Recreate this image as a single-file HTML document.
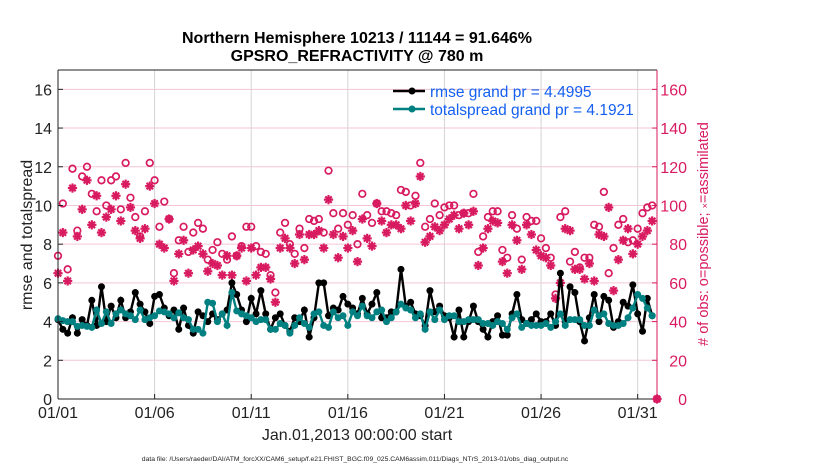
<!DOCTYPE html>
<html><head><meta charset="utf-8">
<style>
body{margin:0;background:#fff;}
svg text{font-family:"Liberation Sans",Arial,sans-serif;}
</style></head>
<body>
<svg id="chart" width="830" height="470" viewBox="0 0 830 470" xmlns="http://www.w3.org/2000/svg">
<rect x="0" y="0" width="830" height="470" fill="#fff"/>
<g id="grid"></g>
<g id="marks"></g>
<g id="axes"></g>
</svg>
<script>
const xTickLabels=["01/01","01/06","01/11","01/16","01/21","01/26","01/31"];
const xTickDays=[0,5,10,15,20,25,30];
const yTicks=[0,2,4,6,8,10,12,14,16];
const y2Ticks=[0,20,40,60,80,100,120,140,160];
const rmse=[4.1,3.6,3.4,4.2, 3.4,4.1,3.8,5.1, 3.8,5.8,4.0,4.8, 4.2,5.1,4.2,4.5, 5.5,4.9,4.5,3.9,
 5.3,5.4,4.7,4.3, 4.6,3.6,4.7,3.8, 3.4,4.5,4.3,4.0, 4.4,4.1,4.4,4.6, 6.0,5.4,4.6,4.0,
 5.2,4.4,5.6,4.4, 3.6,4.2,4.4,3.8, 3.5,4.2,4.0,4.6, 3.2,4.2,6.0,6.0, 4.3,4.7,4.6,5.3,
 4.9,4.7,4.4,5.2, 4.4,4.9,5.5,4.2, 4.2,4.5,4.5,6.7, 4.8,5.0,4.4,4.3, 3.8,5.6,4.5,4.8,
 4.3,4.2,3.2,4.6, 3.2,4.0,4.8,4.0, 3.6,3.2,4.0,4.3, 3.3,3.3,4.4,5.4, 4.1,3.9,4.1,4.4,
 4.0,4.0,4.4,3.8, 6.5,4.0,5.8,5.5, 4.0,3.0,4.2,5.4, 4.0,5.3,5.1,3.7, 4.0,5.0,4.8,5.9,
 4.4,3.5,5.2,4.3];
const spread=[4.15,4.05,4.0,4.0, 3.75,3.8,3.75,3.7, 4.6,3.9,4.5,3.9, 4.4,4.6,4.4,4.3, 4.1,4.6,4.1,4.2,
 4.3,4.55,4.5,4.4, 4.2,4.45,4.2,4.1, 3.6,3.6,3.4,5.0, 4.95,4.0,4.4,3.8, 5.5,4.55,4.4,4.3,
 4.2,4.0,4.1,4.1, 3.6,3.6,3.9,3.8, 3.4,3.8,4.2,3.9, 3.7,4.4,4.5,3.8, 3.7,4.5,4.2,4.3,
 3.8,4.5,4.3,4.8, 4.3,4.2,4.5,4.6, 4.0,4.2,4.5,4.9, 4.7,4.6,4.2,4.4, 3.6,4.5,4.1,4.6,
 4.1,4.3,4.3,4.0, 4.0,4.1,4.1,4.1, 3.9,3.9,3.8,4.0, 3.9,3.6,4.2,4.4, 3.7,3.9,3.8,3.8,
 3.8,3.9,3.7,4.0, 4.4,3.8,4.1,4.1, 4.1,3.8,3.8,4.6, 4.3,4.4,3.9,3.8, 3.8,3.9,4.2,4.7,
 5.4,5.2,4.7,4.3];
const possible=[74,101,67,119, 87,115,120,106, 97,113,100,113, 115,98,122,104, 94,84,97,122,
 113,89,102,93, 65,82,89,76, 86,91,88,72, 77,81,75,72, 84,74,79,89,
 89,79,76,75, 64,55,86,91, 80,75,88,78, 93,92,93,86, 118,96,88,96,
 90,95,80,106, 95,91,101,97, 97,96,95,108, 107,100,105,122, 89,93,101,95,
 99,100,100,95, 96,96,106,76, 84,94,97,97, 77,73,95,88, 72,94,92,92,
 83,78,73,54, 94,97,71,76, 68,73,73,90, 89,107,65,78, 90,93,81,82,
 88,96,99,100, 0];
const assimilated=[65,86,61,109, 84,98,113,90, 105,86,94,98, 105,92,111,99, 87,83,88,110,
 101,80,78,93, 61,75,82,65, 77,79,75,66, 70,69,64,74, 64,74,78,61,
 78,64,68,68, 62,50,78,83, 78,70,85,72, 85,85,87,78, 103,85,73,84,
 78,87,71,93, 83,79,101,92, 86,90,90,88, 100,92,101,115, 81,84,89,87,
 90,93,95,88, 96,90,97,69, 78,88,92,91, 71,65,90,82, 67,90,85,77,
 74,73,69,52, 60,88,87,67, 67,62,70,61, 85,84,99,56, 72,82,88,75,
 80,84,87,92, 0];
const stepDays=0.25;

const NS="http://www.w3.org/2000/svg";
const L=58,R=657,T=70,B=399;
const xs=d=>L+(R-L)*d/31;
const ys=v=>B-(B-T)*v/17;
const ys2=v=>B-(B-T)*v/170;
const red="#d81b60";
function mk(tag,attrs,parent,text){const e=document.createElementNS(NS,tag);for(const k in attrs)e.setAttribute(k,attrs[k]);if(text!==undefined)e.textContent=text;parent.appendChild(e);return e;}
const grid=document.getElementById('grid'),marks=document.getElementById('marks'),axes=document.getElementById('axes');

yTicks.forEach(v=>{const g=mk('line',{x1:L,x2:R,y1:ys(v),y2:ys(v),stroke:"#f3c6d6","stroke-width":1},grid);

});
xTickDays.forEach(d=>{const g=mk('line',{x1:xs(d),x2:xs(d),y1:T,y2:B,stroke:"#d4d4d4","stroke-width":1},grid);

});

const obsG=mk('g',{},marks);


possible.forEach((v,i)=>{const d=i<124?i*stepDays:31;const c=mk('circle',{cx:xs(d),cy:ys2(v),r:3.3,fill:"none",stroke:red,"stroke-width":1.7},obsG);

});
assimilated.forEach((v,i)=>{const d=i<124?i*stepDays:31;const x=xs(d),y=ys2(v),s=4.6;
const g=mk('g',{stroke:red,"stroke-width":2.2},obsG);


mk('line',{x1:x-s,x2:x+s,y1:y,y2:y},g);mk('line',{x1:x,x2:x,y1:y-s,y2:y+s},g);
mk('line',{x1:x-s*0.7,x2:x+s*0.7,y1:y-s*0.7,y2:y+s*0.7},g);mk('line',{x1:x-s*0.7,x2:x+s*0.7,y1:y+s*0.7,y2:y-s*0.7},g);});

function series(arr,col,name){const g=mk('g',{},marks);


const pts=arr.map((v,i)=>xs(i*stepDays).toFixed(1)+","+ys(v).toFixed(1)).join(" ");
mk('polyline',{points:pts,fill:"none",stroke:col,"stroke-width":2.4},g);
arr.forEach((v,i)=>{const c=mk('circle',{cx:xs(i*stepDays),cy:ys(v),r:3.5,fill:col},g);

});}
series(rmse,"#000","rmse-series");
series(spread,"#008080","totalspread-series");

mk('line',{x1:L,x2:R,y1:B,y2:B,stroke:"#222","stroke-width":1},axes);
mk('line',{x1:L,x2:R,y1:T,y2:T,stroke:"#222","stroke-width":1},axes);
mk('line',{x1:L,x2:L,y1:T,y2:B,stroke:"#222","stroke-width":1},axes);
mk('line',{x1:R,x2:R,y1:T,y2:B,stroke:red,"stroke-width":1},axes);
yTicks.forEach(v=>{mk('line',{x1:L,x2:L+5,y1:ys(v),y2:ys(v),stroke:"#222"},axes);
const t=mk('text',{x:L-6,y:ys(v)+6,"text-anchor":"end","font-size":16,fill:"#222"},axes,String(v));

});
y2Ticks.forEach(v=>{mk('line',{x1:R-5,x2:R,y1:ys2(v),y2:ys2(v),stroke:red},axes);
const t=mk('text',{x:687,y:ys2(v)+6,"text-anchor":"end","font-size":16,fill:red},axes,String(v));

});
xTickDays.forEach((d,i)=>{mk('line',{x1:xs(d),x2:xs(d),y1:B-5,y2:B,stroke:"#222"},axes);
const t=mk('text',{x:xs(d),y:B+19,"text-anchor":"middle","font-size":16,fill:"#222"},axes,xTickLabels[i]);

});
</script>
<svg width="830" height="470" style="position:absolute;left:0;top:0;pointer-events:none" xmlns="http://www.w3.org/2000/svg">
<text x="357" y="43" text-anchor="middle" font-size="16" font-weight="bold" font-family="Liberation Sans, sans-serif">Northern Hemisphere 10213 / 11144 = 91.646%</text>
<text x="357" y="61" text-anchor="middle" font-size="16" font-weight="bold" font-family="Liberation Sans, sans-serif">GPSRO_REFRACTIVITY @ 780 m</text>
<text transform="translate(32,235) rotate(-90)" text-anchor="middle" font-size="16" fill="#222" font-family="Liberation Sans, sans-serif">rmse and totalspread</text>
<text transform="translate(708,234) rotate(-90)" text-anchor="middle" font-size="14.5" fill="#d81b60" font-family="Liberation Sans, sans-serif"># of obs: o=possible; <tspan font-size="9">×</tspan>=assimilated</text>
<text x="357" y="440" text-anchor="middle" font-size="16" fill="#222" font-family="Liberation Sans, sans-serif">Jan.01,2013 00:00:00 start</text>
<text x="355" y="461" text-anchor="middle" font-size="6.8" fill="#222" font-family="Liberation Sans, sans-serif">data file: /Users/raeder/DAI/ATM_forcXX/CAM6_setup/f.e21.FHIST_BGC.f09_025.CAM6assim.011/Diags_NTrS_2013-01/obs_diag_output.nc</text>
<g font-family="Liberation Sans, sans-serif">
<g>
<line x1="393" x2="425" y1="91" y2="91" stroke="#000" stroke-width="2.4"/><circle cx="412" cy="91" r="3.5" fill="#000"/>
<text x="430" y="97" font-size="15.5" fill="#1560f0">rmse grand pr = 4.4995</text></g>
<g>
<line x1="393" x2="425" y1="109" y2="109" stroke="#008080" stroke-width="2.4"/><circle cx="412" cy="109" r="3.5" fill="#008080"/>
<text x="430" y="115" font-size="15.5" fill="#1560f0">totalspread grand pr = 4.1921</text></g>
</g>
</svg>
</body></html>
